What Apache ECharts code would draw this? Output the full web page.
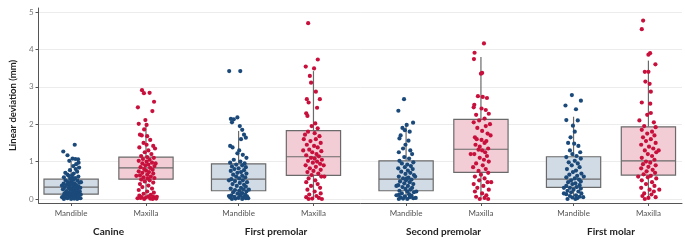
<!DOCTYPE html>
<html>
<head>
<meta charset="utf-8" />
<style>
  html, body { margin: 0; padding: 0; background: #ffffff; }
  #main { width: 685px; height: 240px; }
</style>
</head>
<body>
<div id="main"></div>
<script src="https://cdn.jsdelivr.net/npm/echarts@6/dist/echarts.min.js"></script>
<script>
// groups on the x axis, each with a Mandible and a Maxilla box
var groups = ["Canine", "First premolar", "Second premolar", "First molar"];
var jaws = ["Mandible", "Maxilla"];

// box statistics, order: Canine Mand, Canine Max, 1st PM Mand, 1st PM Max, 2nd PM Mand, 2nd PM Max, 1st M Mand, 1st M Max
var lowerWhisker = [0, 0, 0, 0, 0, 0, 0, 0];
var q1 = [0.13, 0.53, 0.22, 0.63, 0.22, 0.71, 0.31, 0.64];
var median = [0.32, 0.83, 0.53, 1.13, 0.53, 1.33, 0.53, 1.02];
var q3 = [0.53, 1.12, 0.94, 1.83, 1.02, 2.13, 1.13, 1.93];
var upperWhisker = [1.02, 2.01, 1.82, 3.42, 2.0, 3.8, 2.2, 3.7];

var yTicks = [0, 1, 2, 3, 4, 5];

// jittered observations: [value (mm), horizontal jitter -1..1]
var canineMandible = [[1.45,0.3],[1.27,-0.65],[1.17,-0.3],[1.08,0.12],[1.07,0.35],[1.06,0.58],[1.02,-0.15],[0.97,0.62],[0.93,0.42],[0.88,0.18],[0.84,0.66],[0.8,0.38],[0.77,-0.1],[0.73,0.5],[0.7,-0.48],[0.68,0.22],[0.65,-0.3],[0.63,0.08],[0.6,0.6],[0.58,-0.6],[0.56,0.33],[0.54,-0.08],[0.52,0.2],[0.5,-0.45],[0.49,0.52],[0.47,0.03],[0.45,-0.25],[0.44,0.7],[0.42,0.28],[0.41,-0.62],[0.4,0.1],[0.38,-0.35],[0.37,0.45],[0.35,-0.12],[0.34,0.6],[0.33,0.18],[0.32,-0.52],[0.3,0.35],[0.29,-0.2],[0.28,0.05],[0.27,0.55],[0.26,-0.68],[0.25,0.25],[0.24,-0.05],[0.22,0.4],[0.21,-0.4],[0.2,0.72],[0.19,0.15],[0.18,-0.25],[0.17,0.5],[0.15,-0.55],[0.14,0.3],[0.13,0.0],[0.12,-0.32],[0.11,0.62],[0.1,0.2],[0.09,-0.6],[0.08,0.45],[0.07,-0.15],[0.06,0.35],[0.05,-0.45],[0.04,0.1],[0.03,0.65],[0.02,-0.3],[0.01,0.25],[0.0,-0.6],[0.0,0.5],[0.0,0.0],[0.02,0.78],[0.05,-0.75],[0.12,0.8],[0.3,0.76],[0.36,-0.76],[0.45,0.82],[0.55,0.1],[0.62,-0.2],[0.4,-0.15],[0.25,0.45],[0.15,-0.1],[0.08,0.6]];
var canineMaxilla = [[2.91,-0.33],[2.83,-0.17],[2.84,0.3],[2.6,0.67],[2.45,-0.67],[2.35,0.53],[2.11,-0.05],[2.01,-0.6],[1.98,0.05],[1.86,-0.15],[1.72,-0.5],[1.7,-0.35],[1.68,0.1],[1.58,0.35],[1.5,-0.2],[1.45,0.05],[1.42,0.6],[1.38,-0.55],[1.3,0.2],[1.25,-0.1],[1.2,0.45],[1.15,-0.4],[1.12,0.1],[1.1,0.65],[1.07,-0.25],[1.05,0.3],[1.02,-0.6],[1.0,0.05],[0.97,0.5],[0.95,-0.3],[0.92,0.2],[0.9,-0.05],[0.88,0.7],[0.85,-0.45],[0.83,0.35],[0.8,-0.15],[0.78,0.55],[0.76,0.0],[0.74,-0.6],[0.72,0.25],[0.7,-0.3],[0.68,0.6],[0.65,0.1],[0.63,-0.5],[0.6,0.4],[0.58,-0.2],[0.56,0.7],[0.55,0.15],[0.52,-0.4],[0.5,0.3],[0.47,-0.1],[0.44,0.6],[0.4,-0.5],[0.36,0.2],[0.32,-0.3],[0.28,0.5],[0.24,-0.6],[0.2,0.1],[0.17,0.65],[0.14,-0.2],[0.11,0.4],[0.09,-0.55],[0.07,0.2],[0.06,0.6],[0.05,-0.35],[0.04,0.0],[0.03,0.75],[0.02,-0.7],[0.01,0.35],[0.0,-0.15],[0.0,0.55],[0.01,0.85],[0.03,-0.45],[0.06,0.9],[0.95,0.8],[1.35,0.75],[0.62,-0.8]];
var firstPremolarMandible = [[3.42,-0.78],[3.42,0.14],[2.18,-0.1],[2.14,-0.64],[2.13,-0.4],[2.05,-0.55],[1.95,0.1],[1.85,0.3],[1.72,0.45],[1.64,0.6],[1.6,0.2],[1.42,-0.7],[1.38,-0.5],[1.3,0.05],[1.22,-0.1],[1.18,0.35],[1.1,0.65],[1.05,-0.4],[1.0,0.15],[0.97,-0.7],[0.95,0.5],[0.92,-0.2],[0.9,0.3],[0.87,-0.55],[0.85,0.6],[0.82,0.0],[0.8,-0.35],[0.77,0.45],[0.75,-0.65],[0.72,0.2],[0.7,-0.1],[0.68,0.65],[0.65,-0.45],[0.62,0.3],[0.6,-0.2],[0.58,0.55],[0.55,0.05],[0.53,-0.6],[0.5,0.35],[0.48,-0.3],[0.45,0.7],[0.43,0.1],[0.4,-0.5],[0.38,0.45],[0.35,-0.15],[0.33,0.6],[0.3,0.2],[0.28,-0.65],[0.26,0.4],[0.24,-0.3],[0.22,0.05],[0.2,0.65],[0.18,-0.45],[0.16,0.3],[0.14,-0.1],[0.12,0.55],[0.1,-0.6],[0.09,0.15],[0.07,0.7],[0.06,-0.35],[0.05,0.4],[0.04,-0.7],[0.03,0.0],[0.02,0.6],[0.01,-0.25],[0.0,0.3],[0.0,-0.55],[0.02,0.8],[0.08,-0.8],[0.25,0.85],[0.5,-0.8],[0.15,0.2]];
var firstPremolarMaxilla = [[4.7,-0.44],[3.73,0.36],[3.54,-0.64],[3.49,0.05],[3.29,-0.3],[3.11,-0.2],[2.87,0.2],[2.67,-0.55],[2.67,0.53],[2.58,-0.4],[2.44,0.3],[2.29,-0.6],[2.22,-0.5],[2.02,0.15],[1.95,-0.15],[1.89,0.35],[1.8,-0.45],[1.76,0.1],[1.72,-0.7],[1.68,0.5],[1.6,0.2],[1.55,-0.25],[1.5,0.6],[1.45,-0.55],[1.42,0.05],[1.38,0.35],[1.32,-0.35],[1.28,0.65],[1.25,-0.1],[1.2,0.25],[1.17,-0.6],[1.14,0.45],[1.1,-0.2],[1.08,0.1],[1.05,0.7],[1.02,-0.45],[1.0,0.3],[0.97,-0.05],[0.94,0.55],[0.9,-0.65],[0.86,0.2],[0.82,-0.3],[0.78,0.6],[0.75,0.0],[0.72,-0.5],[0.68,0.4],[0.64,-0.15],[0.6,0.65],[0.55,-0.4],[0.5,0.15],[0.45,-0.6],[0.4,0.35],[0.35,-0.2],[0.3,0.55],[0.25,-0.5],[0.2,0.1],[0.15,0.6],[0.12,-0.35],[0.08,0.25],[0.05,-0.6],[0.03,0.45],[0.01,-0.1],[0.0,0.7],[0.0,-0.4],[0.6,0.9],[1.3,-0.85],[0.9,0.85],[1.6,-0.8]];
var secondPremolarMandible = [[2.67,-0.17],[2.36,-0.64],[2.04,0.58],[1.98,0.05],[1.9,-0.3],[1.84,-0.1],[1.8,0.3],[1.7,-0.45],[1.62,-0.55],[1.56,0.2],[1.45,-0.05],[1.35,-0.25],[1.3,0.35],[1.25,-0.6],[1.2,0.5],[1.12,-0.15],[1.08,0.25],[1.02,-0.55],[0.98,0.6],[0.95,-0.35],[0.92,0.1],[0.88,0.4],[0.85,-0.1],[0.82,-0.65],[0.8,0.55],[0.76,0.15],[0.73,-0.4],[0.7,0.35],[0.67,-0.05],[0.64,0.65],[0.6,-0.6],[0.57,0.2],[0.55,-0.25],[0.52,0.45],[0.5,0.0],[0.47,-0.5],[0.45,0.3],[0.42,-0.15],[0.4,0.6],[0.37,-0.65],[0.35,0.15],[0.32,-0.3],[0.3,0.5],[0.27,-0.05],[0.25,0.35],[0.22,-0.55],[0.2,0.1],[0.18,0.65],[0.15,-0.35],[0.13,0.25],[0.11,-0.6],[0.09,0.45],[0.07,-0.1],[0.05,0.3],[0.04,-0.45],[0.02,0.6],[0.01,-0.25],[0.0,0.1],[0.0,-0.6],[0.03,0.8],[0.1,-0.8],[0.6,0.75],[0.35,-0.8],[0.2,0.85],[0.55,0.05]];
var secondPremolarMaxilla = [[4.16,0.25],[3.91,-0.53],[3.74,-0.58],[3.37,0.1],[3.35,0.0],[2.75,-0.25],[2.73,0.15],[2.7,0.5],[2.52,-0.55],[2.45,-0.6],[2.42,0.05],[2.38,0.4],[2.28,0.65],[2.25,-0.4],[2.15,0.3],[2.1,-0.15],[2.05,-0.6],[1.95,0.4],[1.9,-0.3],[1.82,0.1],[1.75,0.55],[1.65,-0.5],[1.6,-0.35],[1.58,0.05],[1.55,0.45],[1.5,0.3],[1.45,-0.45],[1.4,-0.1],[1.35,0.6],[1.32,-0.2],[1.3,0.1],[1.25,0.35],[1.2,-0.55],[1.15,0.5],[1.1,-0.1],[1.05,0.25],[1.0,0.65],[0.95,-0.4],[0.9,0.15],[0.85,-0.65],[0.8,0.4],[0.75,-0.2],[0.7,0.6],[0.65,0.0],[0.6,-0.5],[0.55,0.3],[0.5,-0.15],[0.45,0.55],[0.4,-0.6],[0.35,0.2],[0.3,-0.3],[0.25,0.65],[0.2,-0.5],[0.15,0.1],[0.1,0.45],[0.06,-0.4],[0.03,0.3],[0.0,-0.1],[0.0,0.6],[1.7,0.8],[1.2,-0.85],[0.45,0.85],[2.0,0.75]];
var firstMolarMandible = [[2.78,-0.14],[2.63,0.61],[2.5,-0.67],[2.4,0.2],[2.11,-0.6],[2.1,0.35],[1.96,-0.05],[1.8,0.1],[1.65,-0.25],[1.5,-0.45],[1.48,0.05],[1.42,0.4],[1.3,-0.3],[1.25,0.55],[1.2,-0.1],[1.15,0.25],[1.12,-0.6],[1.08,0.6],[1.02,0.1],[0.98,-0.4],[0.95,0.35],[0.9,-0.15],[0.85,0.5],[0.8,-0.55],[0.76,0.2],[0.72,-0.05],[0.68,0.65],[0.65,-0.35],[0.62,0.3],[0.58,-0.6],[0.55,0.1],[0.52,0.45],[0.5,-0.2],[0.47,0.6],[0.45,-0.45],[0.42,0.15],[0.4,-0.1],[0.37,0.5],[0.35,-0.6],[0.32,0.25],[0.3,-0.3],[0.28,0.6],[0.25,0.0],[0.22,-0.5],[0.2,0.4],[0.18,-0.2],[0.15,0.65],[0.13,-0.6],[0.1,0.2],[0.08,-0.3],[0.06,0.5],[0.04,-0.1],[0.02,0.3],[0.0,-0.5],[0.0,0.15],[0.05,0.8],[0.3,-0.8],[0.6,0.85],[0.15,-0.8]];
var firstMolarMaxilla = [[4.77,-0.44],[4.54,-0.55],[3.9,0.14],[3.86,0.0],[3.6,0.58],[3.4,-0.3],[3.4,0.0],[3.14,-0.25],[3.08,0.1],[2.87,0.2],[2.58,-0.55],[2.55,0.15],[2.3,0.2],[2.25,-0.1],[2.05,0.45],[1.95,-0.35],[1.92,0.6],[1.85,-0.55],[1.8,0.3],[1.75,-0.1],[1.7,0.5],[1.65,-0.45],[1.6,0.2],[1.55,-0.2],[1.5,0.6],[1.45,-0.6],[1.4,0.05],[1.35,0.4],[1.3,-0.3],[1.25,0.65],[1.2,-0.05],[1.15,0.3],[1.1,-0.55],[1.05,0.5],[1.0,-0.2],[0.97,0.15],[0.93,-0.45],[0.9,0.6],[0.86,0.0],[0.82,-0.6],[0.78,0.35],[0.74,-0.15],[0.7,0.55],[0.66,-0.4],[0.62,0.2],[0.58,-0.05],[0.55,0.65],[0.5,-0.55],[0.45,0.3],[0.4,-0.2],[0.35,0.5],[0.3,-0.6],[0.25,0.1],[0.2,0.45],[0.15,-0.35],[0.12,0.25],[0.08,-0.5],[0.05,0.6],[0.03,0.0],[0.0,-0.3],[1.3,0.85],[0.6,-0.85],[2.1,-0.75],[0.25,0.9]];

var observations = [canineMandible, canineMaxilla, firstPremolarMandible, firstPremolarMaxilla,
  secondPremolarMandible, secondPremolarMaxilla, firstMolarMandible, firstMolarMaxilla];

// layout (x axis in "group" units)
var sideOffset = 0.2235;
var boxWidth = 0.324;
var jitterWidth = 0.072;
var fillColors = ["#d1dbe6", "#f3cdd6"];
var dotColors = ["#1b4a7a", "#c8103c"];

var positions = [];
var positionNames = [];
groups.forEach(function (g, gi) {
  jaws.forEach(function (j, ji) {
    positions.push(gi + (ji === 0 ? -sideOffset : sideOffset));
    positionNames.push(j);
  });
});

var boxData = positions.map(function (x, i) {
  return [x, lowerWhisker[i], q1[i], median[i], q3[i], upperWhisker[i], i % 2];
});

var pointData = [[], []];
observations.forEach(function (obs, i) {
  obs.forEach(function (p) {
    pointData[i % 2].push([positions[i] + p[1] * jitterWidth, p[0]]);
  });
});

function nameAt(list, names, v) {
  for (var k = 0; k < list.length; k++) {
    if (Math.abs(list[k] - v) < 1e-6) return names[k];
  }
  return "";
}

var xMin = -0.418, xMax = 3.424;
var fontFamily = "Lato, 'Noto Sans', sans-serif";

var chart = echarts.init(document.getElementById("main"));
chart.setOption({
  animation: false,
  backgroundColor: "#ffffff",
  grid: { left: 29, right: 3, top: 8, bottom: 37, containLabel: false },
  xAxis: [
    {
      type: "value", min: xMin, max: xMax,
      splitLine: { show: false },
      axisLine: { show: true, onZero: false, lineStyle: { color: "#555555", width: 1 } },
      axisTick: { show: true, length: 3, customValues: positions, lineStyle: { color: "#555555" } },
      axisLabel: {
        customValues: positions, margin: 6, color: "#555555", fontSize: 8, fontFamily: fontFamily,
        formatter: function (v) { return nameAt(positions, positionNames, v); }
      }
    },
    {
      type: "value", min: xMin, max: xMax, position: "bottom", offset: 18,
      splitLine: { show: false }, axisLine: { show: false, onZero: false }, axisTick: { show: false },
      axisLabel: {
        customValues: [0, 1, 2, 3], margin: 6, color: "#222222", fontSize: 10, fontWeight: "bold", fontFamily: fontFamily,
        formatter: function (v) { return groups[Math.round(v)]; }
      }
    }
  ],
  yAxis: {
    type: "value", min: -0.107, max: 5.107, splitNumber: 5,
    name: "Linear deviation (mm)", nameLocation: "middle", nameGap: 18,
    nameTextStyle: { color: "#222222", fontSize: 9.5, fontWeight: "bold", fontFamily: fontFamily },
    axisLine: { show: true, onZero: false, lineStyle: { color: "#555555", width: 1 } },
    axisTick: { show: true, length: 3, customValues: yTicks, lineStyle: { color: "#555555" } },
    axisLabel: { customValues: yTicks, margin: 5, color: "#777777", fontSize: 8, fontFamily: fontFamily },
    splitLine: { show: true, lineStyle: { color: "#ececec", width: 1 } }
  },
  series: [
    {
      type: "custom",
      data: boxData,
      z: 2,
      renderItem: function (params, api) {
        var x = api.value(0);
        var half = api.size([boxWidth, 0])[0] / 2;
        var lo = api.coord([x, api.value(1)]);
        var b1 = api.coord([x, api.value(2)]);
        var md = api.coord([x, api.value(3)]);
        var b3 = api.coord([x, api.value(4)]);
        var hi = api.coord([x, api.value(5)]);
        var fill = fillColors[api.value(6)];
        var stroke = { stroke: "#6a6a6a", lineWidth: 1.2 };
        return {
          type: "group",
          children: [
            { type: "line", shape: { x1: lo[0], y1: lo[1], x2: b1[0], y2: b1[1] }, style: stroke },
            { type: "line", shape: { x1: b3[0], y1: b3[1], x2: hi[0], y2: hi[1] }, style: stroke },
            { type: "rect", shape: { x: b3[0] - half, y: b3[1], width: half * 2, height: b1[1] - b3[1] },
              style: { fill: fill, stroke: "#6a6a6a", lineWidth: 1.2 } },
            { type: "line", shape: { x1: md[0] - half, y1: md[1], x2: md[0] + half, y2: md[1] }, style: stroke }
          ]
        };
      }
    },
    {
      type: "scatter", name: "Mandible", data: pointData[0], symbolSize: 4.2, z: 3,
      itemStyle: { color: dotColors[0], opacity: 1 }
    },
    {
      type: "scatter", name: "Maxilla", data: pointData[1], symbolSize: 4.2, z: 3,
      itemStyle: { color: dotColors[1], opacity: 1 }
    }
  ]
});
</script>
</body>
</html>
